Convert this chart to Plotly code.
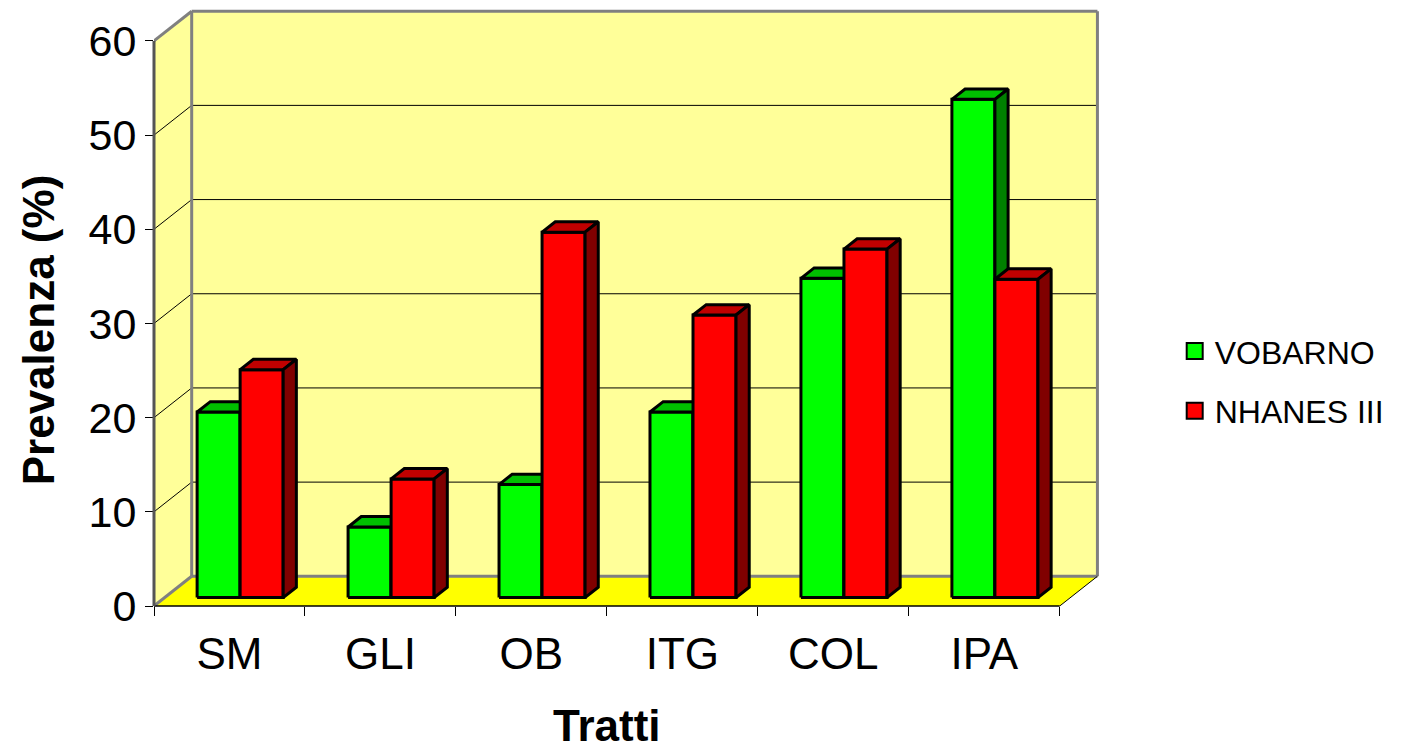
import plotly.graph_objects as go

# ---- data ----
categories = ["SM", "GLI", "OB", "ITG", "COL", "IPA"]
series_names = ["VOBARNO", "NHANES III"]
vobarno = [19.7, 7.5, 12.0, 19.7, 33.9, 52.9]
nhanes = [24.2, 12.6, 38.8, 30.0, 37.0, 33.8]
y_ticks = [0, 10, 20, 30, 40, 50, 60]

# ---- styling / geometry of the pseudo-3D box ----
FONT = "Liberation Sans, Arial, sans-serif"
DX, DY = 0.2497, 3.154          # depth projection (x in category units, y in value units)
Z0, ZD = 0.283, 0.35            # bar depth start and depth size (fraction of box depth)
BAR_W = 0.285
YMAX = 60
N = len(categories)
series = [
    (vobarno, "#00FF00", "#00C000", "#008000"),
    (nhanes, "#FF0000", "#C00000", "#800000"),
]

def P(x, y, z):
    return x + z * DX, y + z * DY

def poly(points):
    xs = [p[0] for p in points] + [points[0][0]]
    ys = [p[1] for p in points] + [points[0][1]]
    return xs, ys

def path(points):
    return "M " + " L ".join(f"{x},{y}" for x, y in points) + " Z"

shapes = []
WALL = "#FFFF99"
FLOOR = "#FFFF00"
GRAY = "#808080"

# walls and floor
shapes.append(dict(type="path", path=path([P(0, 0, 0), P(0, YMAX, 0), P(0, YMAX, 1), P(0, 0, 1)]),
                   fillcolor=WALL, line=dict(width=0), layer="below"))
shapes.append(dict(type="path", path=path([P(0, 0, 1), P(0, YMAX, 1), P(N, YMAX, 1), P(N, 0, 1)]),
                   fillcolor=WALL, line=dict(width=0), layer="below"))
shapes.append(dict(type="path", path=path([P(0, 0, 0), P(N, 0, 0), P(N, 0, 1), P(0, 0, 1)]),
                   fillcolor=FLOOR, line=dict(width=0), layer="below"))

# gridlines (back wall + left wall diagonals)
for v in y_ticks[1:-1]:
    a, b = P(0, v, 1), P(N, v, 1)
    shapes.append(dict(type="line", x0=a[0], y0=a[1], x1=b[0], y1=b[1],
                       line=dict(color="#000000", width=1), layer="below"))
    c = P(0, v, 0)
    shapes.append(dict(type="line", x0=c[0], y0=c[1], x1=a[0], y1=a[1],
                       line=dict(color="#000000", width=1), layer="below"))

# gray borders of the walls
def seg(p, q, color=GRAY, width=3):
    shapes.append(dict(type="line", x0=p[0], y0=p[1], x1=q[0], y1=q[1],
                       line=dict(color=color, width=width), layer="below"))

seg(P(0, 0, 1), P(0, YMAX, 1))
seg(P(0, YMAX, 1), P(N, YMAX, 1))
seg(P(N, YMAX, 1), P(N, 0, 1))
seg(P(0, 0, 1), P(N, 0, 1))
seg(P(0, YMAX, 0), P(0, YMAX, 1))
seg(P(0, 0, 0), P(0, 0, 1))
# floor right edge
seg(P(N, 0, 0), P(N, 0, 1), color="#000000", width=1)
# floor front edge (paper y so it is not clipped)
shapes.append(dict(type="line", xref="x", yref="paper", x0=0, x1=N, y0=0, y1=0,
                   line=dict(color="#000000", width=1.5)))
# front value axis line
shapes.append(dict(type="line", xref="paper", yref="y", x0=0, x1=0, y0=0, y1=YMAX,
                   line=dict(color="#555555", width=3)))

fig = go.Figure()

# bars (front, top, side faces), painter's order
for i in range(N):
    for k, (vals, cf, ct, cs) in enumerate(series):
        v = vals[i]
        x0 = i + 0.5 - BAR_W + k * BAR_W
        x1 = x0 + BAR_W
        z1 = Z0 + ZD
        faces = [
            ([P(x0, 0, Z0), P(x1, 0, Z0), P(x1, v, Z0), P(x0, v, Z0)], cf),
            ([P(x0, v, Z0), P(x1, v, Z0), P(x1, v, z1), P(x0, v, z1)], ct),
            ([P(x1, 0, Z0), P(x1, 0, z1), P(x1, v, z1), P(x1, v, Z0)], cs),
        ]
        for pts, col in faces:
            xs, ys = poly(pts)
            fig.add_trace(go.Scatter(x=xs, y=ys, mode="lines", fill="toself", fillcolor=col,
                                     line=dict(color="#000000", width=3),
                                     showlegend=False, hoverinfo="skip"))

# legend entries
for k, name in enumerate(series_names):
    fig.add_trace(go.Scatter(x=[None], y=[None], mode="markers", name=name,
                             legendgroup=name,
                             marker=dict(symbol="square", size=16, color=series[k][1],
                                         line=dict(color="#000000", width=2))))

L, T, B = 154, 6.8, 146.3
CATPX = 151
XR = [0, 6.28]
plot_w = (XR[1] - XR[0]) * CATPX
R = 1401 - L - plot_w
YR = [0, 63.6]

fig.update_layout(
    template="none",
    width=1401, height=752,
    margin=dict(l=L, r=R, t=T, b=B, pad=0, autoexpand=False),
    paper_bgcolor="white", plot_bgcolor="white",
    font=dict(family=FONT, color="#000000"),
    shapes=shapes,
    showlegend=True,
    legend=dict(x=(1175 - L) / plot_w, y=(605.7 - 381) / 598.9, xanchor="left", yanchor="middle",
                font=dict(size=32, family=FONT), tracegroupgap=15, bgcolor="rgba(0,0,0,0)"),
    xaxis=dict(range=XR, showgrid=False, zeroline=False, showline=False, automargin=False,
               tickvals=[i + 0.5 for i in range(N)], ticktext=categories, ticks="",
               tickfont=dict(size=44, family=FONT), ticklabelstandoff=18,
               minor=dict(tickvals=list(range(N + 1)), ticks="outside", ticklen=9,
                          tickcolor="#000000", tickwidth=1, showgrid=False)),
    yaxis=dict(range=YR, showgrid=False, zeroline=False, showline=False, automargin=False,
               tickvals=y_ticks, ticks="outside", ticklen=8, tickcolor="#000000", tickwidth=1,
               tickfont=dict(size=43, family=FONT), ticklabelstandoff=0),
    annotations=[
        dict(text="Prevalenza (%)", xref="paper", yref="paper",
             x=(38 - L) / plot_w, y=(605.7 - 330) / 598.9, xanchor="center", yanchor="middle",
             textangle=-90, showarrow=False, font=dict(size=44, family=FONT, weight="bold")),
        dict(text="Tratti", xref="x", yref="paper", x=3, y=(605.7 - 751) / 598.9,
             xanchor="center", yanchor="bottom", showarrow=False, borderpad=0,
             font=dict(size=44, family=FONT, weight="bold")),
    ],
)

fig.write_html("out.html", config={"displayModeBar": False},
               post_script="document.body.style.margin='0px';")
